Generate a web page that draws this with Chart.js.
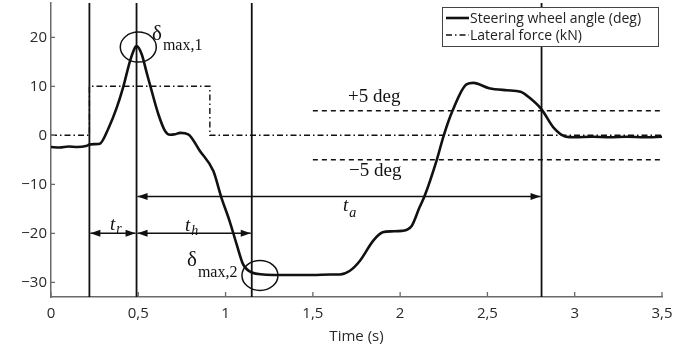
<!DOCTYPE html>
<html lang="en">
<head>
<meta charset="utf-8">
<title>steering wheel angle</title>
<style type="text/css">
  html, body { margin: 0; padding: 0; background: #ffffff; }
  #wrap { width: 697px; height: 352px; }
</style>
</head>
<body>
<div id="wrap"><canvas id="myChart" width="697" height="352"></canvas></div>

<script src="https://cdn.jsdelivr.net/npm/chart.js"></script>
<script>

  // steering wheel angle (deg)
  const steerTime = [0, 0.05, 0.1, 0.15, 0.2, 0.22, 0.25, 0.28, 0.33, 0.376, 0.414, 0.453, 0.481, 0.49,
    0.52, 0.548, 0.577, 0.615, 0.653, 0.682, 0.71, 0.74, 0.786, 0.853, 0.93, 0.976, 1.023, 1.063,
    1.10, 1.15, 1.216, 1.3, 1.4, 1.5, 1.6, 1.655, 1.71, 1.77, 1.846, 1.90, 1.95, 2.01, 2.066, 2.11,
    2.14, 2.21, 2.25, 2.30, 2.38, 2.42, 2.51, 2.61, 2.69, 2.74, 2.81, 2.88, 2.95, 3.0, 3.1, 3.2,
    3.3, 3.4, 3.5];
  const steerAngle = [-2.4, -2.5, -2.3, -2.4, -2.2, -1.9, -1.8, -1.7, 1.5, 5.6, 9.9, 15.2, 17.9, 18.2,
    16.5, 12.8, 9.0, 4.3, 0.9, 0.1, 0.2, 0.5, 0.2, -3.2, -7.3, -12.7, -17.5, -22.2,
    -26.3, -28.0, -28.4, -28.5, -28.5, -28.5, -28.4, -28.4, -27.7, -25.6, -21.5, -19.8, -19.6, -19.5, -18.5, -14.8,
    -12.4, -5.0, 0, 5.0, 10.4, 10.7, 9.6, 9.2, 8.9, 7.7, 5.3, 1.5, -0.3, -0.4, -0.3, -0.4,
    -0.3, -0.4, -0.3];

  // lateral force (kN)
  const forceTime = [0, 0.22, 0.22, 0.91, 0.91, 3.5];
  const forceValue = [0, 0, 10, 10, 0, 0];

  // +/- 5 deg band
  const bandStart = 1.5;
  const bandEnd = 3.5;
  const bandLevels = [5, -5];
  const bandLabels = ['+5 deg', '\u22125 deg'];

  // vertical markers (s)
  const markerTimes = [0.22, 0.49, 1.15, 2.81];

  const seriesLabels = ['Steering wheel angle (deg)', 'Lateral force (kN)'];
  const xTicks = [0, 0.5, 1, 1.5, 2, 2.5, 3, 3.5];
  const yTicks = [-30, -20, -10, 0, 10, 20];

  // time intervals: from, to, level, name, subscript
  const intervals = [
    [0.22, 0.49, -20, 't', 'r'],
    [0.49, 1.15, -20, 't', 'h'],
    [0.49, 2.81, -12.5, 't', 'a']
  ];
  // peaks circled: time, angle, subscript
  const peaks = [
    [0.5, 18.0, 'max,1'],
    [1.197, -28.6, 'max,2']
  ];

  const AXIS_COL = '#6a6a6a';
  const INK = '#111111';

  function pts(xs, ys) {
    const out = [];
    for (let i = 0; i < xs.length; ++i) out.push({x: xs[i], y: ys[i]});
    return out;
  }

  function arrowHead(c, x, y, dir) {
    c.beginPath();
    c.moveTo(x, y);
    c.lineTo(x - dir * 10, y - 3.5);
    c.lineTo(x - dir * 10, y + 3.5);
    c.closePath();
    c.fill();
  }

  function subText(c, x, y, main, sub, mainFont, subFont, drop) {
    c.font = mainFont;
    c.fillText(main, x, y);
    const w = c.measureText(main).width;
    c.font = subFont;
    c.fillText(sub, x + w + 1, y + drop);
  }

  const extras = {
    id: 'extras',
    afterDatasetsDraw(chart) {
      const c = chart.ctx;
      const xs = chart.scales.x, ys = chart.scales.y;
      const a = chart.chartArea;
      c.save();

      // inward tick marks
      c.strokeStyle = AXIS_COL;
      c.lineWidth = 1.3;
      c.beginPath();
      yTicks.forEach(v => { const py = ys.getPixelForValue(v); c.moveTo(a.left, py); c.lineTo(a.left + 4, py); });
      xTicks.forEach(v => { const px = xs.getPixelForValue(v); c.moveTo(px, a.bottom); c.lineTo(px, a.bottom - 5); });
      c.stroke();

      // vertical markers
      c.strokeStyle = INK;
      c.lineWidth = 1.8;
      c.beginPath();
      markerTimes.forEach(t => { const px = xs.getPixelForValue(t); c.moveTo(px, a.top); c.lineTo(px, a.bottom); });
      c.stroke();

      // interval arrows
      c.fillStyle = INK;
      c.lineWidth = 1.5;
      intervals.forEach(iv => {
        const x0 = xs.getPixelForValue(iv[0]) + 1, x1 = xs.getPixelForValue(iv[1]) - 1;
        const py = ys.getPixelForValue(iv[2]);
        c.beginPath(); c.moveTo(x0, py); c.lineTo(x1, py); c.stroke();
        arrowHead(c, x0, py, -1);
        arrowHead(c, x1, py, 1);
      });

      // labels of intervals
      c.textBaseline = 'alphabetic';
      c.textAlign = 'left';
      const tFont = 'italic 19px "Liberation Serif"';
      const sFont = 'italic 14px "Liberation Serif"';
      subText(c, 110, 230, 't', 'r', tFont, sFont, 3);
      subText(c, 185, 231, 't', 'h', tFont, sFont, 4);
      subText(c, 343, 211, 't', 'a', tFont, sFont, 6);

      // circled peaks
      c.lineWidth = 1.5;
      peaks.forEach(p => {
        const px = xs.getPixelForValue(p[0]), py = ys.getPixelForValue(p[1]);
        c.beginPath(); c.ellipse(px, py, 18, 15, 0, 0, Math.PI * 2); c.stroke();
      });
      const dFont = '21px "Liberation Serif"';
      const mFont = '16px "Liberation Serif"';
      subText(c, 152, 40, '\u03b4', peaks[0][2], dFont, mFont, 10);
      subText(c, 187, 266, '\u03b4', peaks[1][2], dFont, mFont, 11);

      // band labels
      c.font = '19px "Liberation Serif"';
      c.fillText(bandLabels[0], 348, 102);
      c.fillText(bandLabels[1], 349, 176);

      // legend box
      const lx = 442, ly = 7, lw = 216, lh = 39;
      c.fillStyle = '#ffffff';
      c.fillRect(lx, ly, lw, lh);
      c.strokeStyle = '#444444';
      c.lineWidth = 1;
      c.strokeRect(lx + 0.5, ly + 0.5, lw, lh);
      c.font = '14px "Open Sans"';
      c.fillStyle = '#222222';
      c.textBaseline = 'middle';
      const rows = [18, 35];
      chart.data.datasets.slice(0, 2).forEach((ds, i) => {
        c.strokeStyle = INK;
        c.lineWidth = ds.borderWidth;
        c.setLineDash(ds.borderDash || []);
        c.beginPath(); c.moveTo(446, rows[i]); c.lineTo(469, rows[i]); c.stroke();
        c.setLineDash([]);
        c.fillText(ds.label, 470, rows[i] + 1);
      });
      c.restore();
    }
  };

  const datasets = [
    {
      label: seriesLabels[0],
      data: pts(steerTime, steerAngle),
      borderColor: INK,
      borderWidth: 2.6,
      pointRadius: 0,
      cubicInterpolationMode: 'monotone',
      order: 0
    },
    {
      label: seriesLabels[1],
      data: pts(forceTime, forceValue),
      borderColor: INK,
      borderWidth: 1.4,
      borderDash: [6, 3, 1.5, 3],
      pointRadius: 0,
      tension: 0,
      order: 1
    }
  ];
  bandLevels.forEach(v => {
    datasets.push({
      label: 'band ' + v,
      data: [{x: bandStart, y: v}, {x: bandEnd, y: v}],
      borderColor: INK,
      borderWidth: 1.4,
      borderDash: [5, 4],
      pointRadius: 0,
      order: 2
    });
  });

  const tickFont = {family: 'Open Sans', size: 15};

  const ctx = document.getElementById('myChart');
  const our_chart = new Chart(ctx, {
    type: 'line',
    data: {datasets: datasets},
    plugins: [extras],
    options: {
      responsive: false,
      animation: false,
      layout: {padding: {left: 0, right: 35, top: 3, bottom: 0}},
      plugins: {legend: {display: false}, tooltip: {enabled: false}},
      scales: {
        x: {
          type: 'linear',
          min: 0, max: 3.5,
          afterBuildTicks: (axis) => { axis.ticks = xTicks.map(v => ({value: v})); },
          afterFit: (axis) => { axis.height = 55; axis.paddingLeft = 0; axis.paddingRight = 0; },
          grid: {display: false, drawTicks: false},
          border: {display: true, color: AXIS_COL, width: 1.5},
          ticks: {
            padding: 8,
            color: '#2a2a2a',
            font: tickFont,
            callback: (v) => String(v).replace('.', ',')
          },
          title: {
            display: true,
            text: 'Time (s)',
            color: '#2a2a2a',
            font: {family: 'Open Sans', size: 15},
            padding: {top: 0, bottom: 6}
          }
        },
        y: {
          min: -33, max: 27,
          afterBuildTicks: (axis) => { axis.ticks = yTicks.map(v => ({value: v})); },
          afterFit: (axis) => { axis.width = 51; axis.paddingTop = 0; axis.paddingBottom = 0; },
          grid: {display: false, drawTicks: false},
          border: {display: true, color: AXIS_COL, width: 1.5},
          ticks: {
            padding: 4,
            color: '#2a2a2a',
            font: tickFont,
            callback: (v) => (v < 0 ? '\u2212' + Math.abs(v) : String(v))
          }
        }
      }
    }
  });
</script>
</body>
</html>
